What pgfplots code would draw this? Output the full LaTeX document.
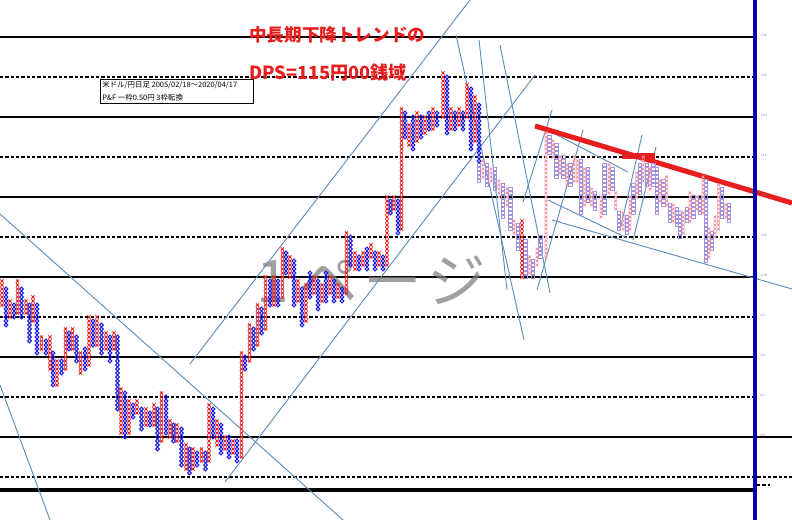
\documentclass[border=0pt]{standalone}
\usepackage{pgfplots}
\pgfplotsset{compat=1.18}
\usepackage{pgfplotstable}
\usepackage{fontspec}
\newfontfamily\jp{Noto Sans CJK JP}
\definecolor{xred}{RGB}{238,30,30}
\definecolor{oblue}{RGB}{30,30,225}
\definecolor{pxred}{RGB}{245,150,165}
\definecolor{poblue}{RGB}{160,145,225}
\definecolor{tline}{RGB}{95,140,190}
\definecolor{axblue}{RGB}{0,0,170}
\definecolor{ttlred}{RGB}{232,30,30}

\pgfplotstableread{
x lo hi
2 96.5 99.5
10 95 97
17.5 95.5 99.5
26 95.5 97
33 94.5 97.5
41.5 91 92.5
50 88.5 92.5
57 86.5 89.5
65.5 88.5 93.5
72.5 91 93.5
80.5 88 90.5
89 89 95
97 91.5 95
106 91 93
114 91 93
121 80.5 86
129 80.5 84.5
137 83 84.5
146 81.5 83.5
154 81.5 84
161.5 79.5 85.5
170 80 82
177 79.5 81.5
186 76 79
193 76 78.5
201.5 77 78.5
209 77 84
217 79 82
225 78.5 80
233 78 79.5
241.5 77.5 90.5
249.5 89.5 94
257.5 91.5 96.5
265.5 93.5 100
274 96.5 100
282.5 97.5 103.5
290 100 102.5
298 97 99.5
306 94.5 99
314 98 100
322 97 99
330 98 100
338 97.5 99
346.5 98 105.5
355 101 103
363 101.5 103
371 102.5 104
379 101.5 103
387 101.5 110
394 108.5 110
401.5 106 121
409 116.5 119
417 117 120.5
425 118 120
433 118.5 121
443 120 125.5
451 118.5 121
459 119 121
467 120 124
475 117 122.5
522 100 107
}\darkX

\pgfplotstableread{
x lo hi
6 94 98.5
14 95 96.5
21.5 95 98.5
29.5 92 96.5
37 90.5 96.5
46 90.5 92
53 86.5 90.5
61.5 88 89.5
69 91 93
76.5 89.5 92.5
85 88.5 91
93 91.5 94.5
101.5 90.5 94
110 89.5 92.5
117.5 83.5 92.5
125 80 85.5
133 82.5 84
141.5 81 83.5
150 81.5 83
157.5 78.5 83.5
166 80.5 85
173.5 79.5 81.5
181.5 76.5 81
189.5 75.5 78.5
197 76.5 78
205.5 76 78
213 80 83.5
221 78 81.5
229 77.5 80
237 77 79.5
245 88.5 90
253.5 91 93.5
261.5 93 96
270 96.5 99.5
278 96.5 99.5
286 100.5 103
294 96.5 102
302 94 98.5
310 97.5 100.5
318 96 99.5
326 97 100.5
334 97 99.5
342 97 98.5
350.5 101.5 105
359 101 102.5
367 101 103.5
375 101 103
383 101 102.5
390.5 108 109.5
398 105.5 109.5
405 117.5 120.5
413 116 120
421 117.5 120
429 118.5 120.5
437 119 120.5
447 118 125
455 118.5 120.5
463 118.5 120.5
471 116 123.5
479 114.5 121.5
}\darkO

\pgfplotstableread{
x lo hi
483 112.5 114.5
491 112 113.5
499 110 112
507 109 111
514 105.5 107
529.5 100.5 102.5
537 101.5 103.5
546 102.5 118
553 115 117
560 113 115
567 111.5 114
574 112 115
577.5 112 114.5
584.5 109 113.5
591.5 109 111
601 107.5 110
609 110.5 114
615.7 108.5 110.5
623.3 106 108
630 106 110
636.7 110 113
643.3 112 115
650 111 113.5
660 109.5 112
666.7 109 112.5
673.3 107 109
683.3 105.5 108
690 107 110.5
696.7 108.5 110
703 108 112.5
709 102.5 106
715 105 107.5
718.5 106 111.5
725.7 107.5 109
}\paleX

\pgfplotstableread{
x lo hi
479 112 114
487 111.5 114
495 111 113.5
503 107.5 111.5
510.5 106 111
518 103.5 106.5
525.5 100 104.5
533 100 102
540.5 102.5 105
549.5 115.5 117.5
556.5 112.5 116.5
563.5 112.5 115
570.5 111.5 114
581 108 114.5
588 109.5 113.5
595 108.5 110.5
604.3 108 114
612.3 111 113.5
619 106 108
626.7 105.5 107.5
633.3 108 111.5
640 110.5 114
646.7 111.5 114
653.3 111.5 114
656.7 108 113.5
663.3 109 112
670 107 109
676.7 106.5 108.5
680 105 108
686.7 107 108.5
693.3 107.5 110
700 108 110
706 102 112
712 103.5 105.5
722 107.5 111
729 107 109
}\paleO

% expand every column (x, lo, hi) into its boxes, one per 0.50 yen
\newcount\nbox
\newcommand\buildboxes[2]{%
  \gdef#2{}%
  \pgfplotstablegetrowsof{#1}%
  \pgfmathtruncatemacro\nrows{\pgfplotsretval-1}%
  \pgfplotsforeachungrouped \r in {0,...,\nrows}{%
    \pgfplotstablegetelem{\r}{x}\of{#1}\let\cx\pgfplotsretval
    \pgfplotstablegetelem{\r}{lo}\of{#1}\let\clo\pgfplotsretval
    \pgfplotstablegetelem{\r}{hi}\of{#1}\let\chiv\pgfplotsretval
    \pgfmathtruncatemacro\nb{round((\chiv-\clo)*2)}%
    \nbox=0
    \loop
      \pgfmathsetmacro\yy{\clo+0.5*\the\nbox}%
      \xdef#2{#2 (\cx,\yy)}%
      \advance\nbox by 1
    \ifnum\nbox<\numexpr\nb+1\relax
    \repeat
  }%
}
\buildboxes{\darkX}{\listDX}
\buildboxes{\darkO}{\listDO}
\buildboxes{\paleX}{\listPX}
\buildboxes{\paleO}{\listPO}

\pgfplotsset{
  xbox/.style={only marks, mark=x, mark size=1.6pt, mark options={line width=0.75pt}, forget plot},
  obox/.style={only marks, mark=o, mark size=1.4pt, mark options={line width=0.8pt}, forget plot},
  pxbox/.style={only marks, mark=x, mark size=1.5pt, mark options={line width=0.6pt}, forget plot},
  pobox/.style={only marks, mark=square, mark size=1.25pt, mark options={line width=0.6pt}, forget plot},
}

\begin{document}
\begin{tikzpicture}
\begin{axis}[
  at={(0,0)}, anchor=south west,
  width=594pt, height=390pt, scale only axis,
  xmin=0, xmax=792, ymin=69.625, ymax=134.625,
  hide axis, clip=true,
]
% grid lines
\foreach \v in {130,120,110,100,90} {
  \edef\tmp{\noexpand\addplot[black, line width=0.8pt, forget plot] coordinates {(0,\v) (755,\v)};}\tmp
}
\addplot[black, line width=0.8pt, forget plot] coordinates {(0,80) (792,80)};
\foreach \v in {125,115,105,95,85} {
  \edef\tmp{\noexpand\addplot[black, line width=0.8pt, dash pattern=on 2.4pt off 1.6pt, forget plot] coordinates {(0,\v) (755,\v)};}\tmp
}
\addplot[black, line width=0.8pt, dash pattern=on 2.4pt off 1.6pt, forget plot] coordinates {(0,75) (792,75)};
\addplot[black, line width=0.8pt, dash pattern=on 2.4pt off 1.6pt, forget plot] coordinates {(757,74) (770,74)};
\addplot[black, line width=2.4pt, forget plot] coordinates {(0,73.375) (755,73.375)};

% P&F columns
\edef\tmp{\noexpand\addplot[pobox, poblue] coordinates {\listPO};}\tmp
\edef\tmp{\noexpand\addplot[pxbox, pxred] coordinates {\listPX};}\tmp
\edef\tmp{\noexpand\addplot[obox, oblue] coordinates {\listDO};}\tmp
\edef\tmp{\noexpand\addplot[xbox, xred] coordinates {\listDX};}\tmp

% trend lines
\addplot[tline, line width=0.7pt] coordinates {(0,107.875) (343,69.625)};
\addplot[tline, line width=0.7pt] coordinates {(0,86.5) (50,69.625)};
\addplot[tline, line width=0.7pt] coordinates {(190,89.125) (470,134.625)};
\addplot[tline, line width=0.7pt] coordinates {(225,74.375) (535,125.25)};
\addplot[tline, line width=0.7pt] coordinates {(456,130.25) (524,92.125)};
\addplot[tline, line width=0.7pt] coordinates {(479,129.625) (507,98.375)};
\addplot[tline, line width=0.7pt] coordinates {(500,129) (550,98)};
\addplot[tline, line width=0.7pt] coordinates {(523,109.375) (552,120.875)};
\addplot[tline, line width=0.7pt] coordinates {(537,98.375) (583,118.375)};
\addplot[tline, line width=0.7pt] coordinates {(557,117.75) (628,113.125)};
\addplot[tline, line width=0.7pt] coordinates {(548,109.625) (627,104.875)};
\addplot[tline, line width=0.7pt] coordinates {(552,107.125) (792,98.5)};
\addplot[tline, line width=0.7pt] coordinates {(620,105.875) (642,117.75)};
\addplot[tline, line width=0.7pt] coordinates {(633,104.625) (656,116.25)};

% red resistance line
\addplot[ttlred, line width=3.8pt] coordinates {(535,118.875) (792,109.25)};
\addplot[ttlred, line width=4.5pt] coordinates {(622,115.125) (655,115.125)};

% blue vertical axis line
\addplot[axblue, line width=2.6pt] coordinates {(755,69.625) (755,134.625)};

% right labels
\foreach \v/\t in {130/130,125/125,120/120,115/115,110/110,105/105,100/100,95/95,90/90,85/85,80/80} {
  \edef\tmp{\noexpand\node[anchor=west, text=gray, font=\noexpand\fontsize{2.6}{3}\noexpand\selectfont, inner sep=0pt] at (axis cs:760,\v+0.25) {\t};}\tmp
}

% info box
\draw[black, line width=0.7pt, fill=white] (axis cs:100,124.75) rectangle (axis cs:253,121.75);
\node[anchor=west, inner sep=0pt, font=\jp\fontsize{5.6}{6}\selectfont] at (axis cs:102,124.05) {米ドル/円日足\ 2005/02/18〜2020/04/17};
\node[anchor=west, inner sep=0pt, font=\jp\fontsize{5.6}{6}\selectfont] at (axis cs:102,122.4) {P\&F\ 一枠0.50円\ 3枠転換};

% titles
\node[anchor=west, inner sep=0pt, text=ttlred, font=\jp\bfseries\fontsize{13.2}{15}\selectfont] at (axis cs:249,130.25) {中長期下降トレンドの};
\node[anchor=west, inner sep=0pt, text=ttlred, font=\jp\bfseries\fontsize{13.6}{15}\selectfont] at (axis cs:249,125.6) {DPS=115円00銭域};

% watermark
\node[anchor=west, inner sep=0pt, text=gray, opacity=0.75, font=\jp\fontsize{44}{46}\selectfont] at (axis cs:256,99.6) {1\hspace{8pt}ペ\hspace{4pt}ー\hspace{4pt}ジ};
\end{axis}
\pgfresetboundingbox
\useasboundingbox (0,0) rectangle (594pt,390pt);
\end{tikzpicture}
\end{document}
